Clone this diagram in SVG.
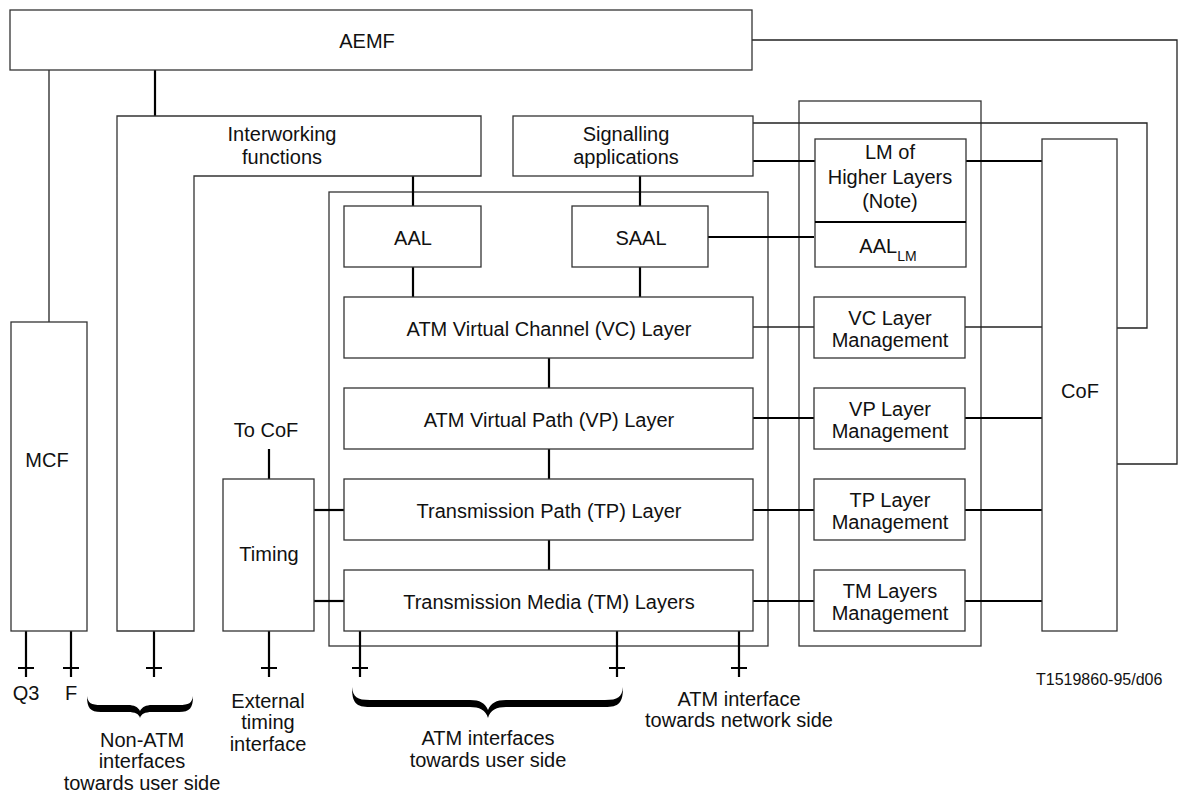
<svg xmlns="http://www.w3.org/2000/svg" width="1180" height="794" viewBox="0 0 1180 794">
<style>
.box{fill:#fff;stroke:#333;stroke-width:1.3}
.cont{fill:none;stroke:#333;stroke-width:1.3}
.thin{fill:none;stroke:#222;stroke-width:1.3}
.thick{fill:none;stroke:#000;stroke-width:2.2}
text{font-family:"Liberation Sans",Arial,sans-serif;font-size:20px;fill:#111;text-anchor:middle}
.small{font-size:16px;text-anchor:start}
.sub{font-size:14px}
.brace{fill:#000;stroke:none}
</style>
<rect width="1180" height="794" fill="#fff"/>
<g id="containers">
<rect class="cont" x="329" y="192" width="439" height="454"/>
<rect class="cont" x="799" y="101" width="182" height="545"/>
</g>
<g id="connectors">
<path class="thin" d="M49 70V322"/>
<path class="thick" d="M155 70V116"/>
<path class="thin" d="M752 40H1177V464H1117"/>
<path class="thin" d="M753 123H1147V328H1117"/>
<path class="thick" d="M413 176V206"/>
<path class="thick" d="M640 176V206"/>
<path class="thick" d="M753 161H815"/>
<path class="thick" d="M966 161H1042"/>
<path class="thick" d="M708 237H814"/>
<path class="thick" d="M413 267V297"/>
<path class="thick" d="M640 267V297"/>
<path class="thick" d="M549 358V388"/>
<path class="thick" d="M549 449V479"/>
<path class="thick" d="M549 540V570"/>
<path class="thin" d="M753 327H814"/>
<path class="thin" d="M965 327H1042"/>
<path class="thick" d="M753 418H814"/>
<path class="thick" d="M965 418H1042"/>
<path class="thick" d="M753 510H814"/>
<path class="thick" d="M965 510H1042"/>
<path class="thick" d="M753 601H814"/>
<path class="thick" d="M965 601H1042"/>
<path class="thick" d="M314 510H344"/>
<path class="thick" d="M314 601H344"/>
<path class="thick" d="M269 449V479"/>
<path class="thick" d="M26 631V677M18 668H34"/>
<path class="thick" d="M71 631V677M63 668H79"/>
<path class="thick" d="M154 631V677M146 668H162"/>
<path class="thick" d="M269 631V677M261 668H277"/>
<path class="thick" d="M360 631V677M352 668H368"/>
<path class="thick" d="M617 631V677M609 668H625"/>
<path class="thick" d="M739 631V677M731 668H747"/>
</g>
<g id="aemf"><rect class="box" x="10" y="10" width="742" height="60"/><text x="367" y="48">AEMF</text></g>
<g id="mcf"><rect class="box" x="11" y="322" width="76" height="309"/><text x="47" y="467">MCF</text></g>
<g id="iwf"><path class="box" d="M117 116H481V176H194V631H117Z"/><text x="282" y="141">Interworking</text><text x="282" y="164">functions</text></g>
<g id="signalling"><rect class="box" x="513" y="116" width="240" height="60"/><text x="626" y="141">Signalling</text><text x="626" y="164">applications</text></g>
<g id="aal"><rect class="box" x="344" y="206" width="137" height="61"/><text x="413" y="245">AAL</text></g>
<g id="saal"><rect class="box" x="572" y="206" width="136" height="61"/><text x="641" y="245">SAAL</text></g>
<g id="vc"><rect class="box" x="344" y="297" width="409" height="61"/><text x="549" y="336">ATM Virtual Channel (VC) Layer</text></g>
<g id="vp"><rect class="box" x="344" y="388" width="409" height="61"/><text x="549" y="427">ATM Virtual Path (VP) Layer</text></g>
<g id="tp"><rect class="box" x="344" y="479" width="409" height="61"/><text x="549" y="518">Transmission Path (TP) Layer</text></g>
<g id="tm"><rect class="box" x="344" y="570" width="409" height="61"/><text x="549" y="609">Transmission Media (TM) Layers</text></g>
<g id="timing"><rect class="box" x="223" y="479" width="91" height="152"/><text x="269" y="561">Timing</text><text x="266" y="437">To CoF</text></g>
<g id="lmhl"><rect class="box" x="815" y="139" width="151" height="128"/><path class="thick" d="M815 222H966"/><text x="890" y="159">LM of</text><text x="890" y="184">Higher Layers</text><text x="890" y="208">(Note)</text><text x="888" y="253">AAL<tspan class="sub" dy="8">LM</tspan></text></g>
<g id="vcm"><rect class="box" x="814" y="297" width="151" height="61"/><text x="890" y="325">VC Layer</text><text x="890" y="347">Management</text></g>
<g id="vpm"><rect class="box" x="814" y="388" width="151" height="61"/><text x="890" y="416">VP Layer</text><text x="890" y="438">Management</text></g>
<g id="tpm"><rect class="box" x="814" y="479" width="151" height="61"/><text x="890" y="507">TP Layer</text><text x="890" y="529">Management</text></g>
<g id="tmm"><rect class="box" x="814" y="570" width="151" height="61"/><text x="890" y="598">TM Layers</text><text x="890" y="620">Management</text></g>
<g id="cof"><rect class="box" x="1042" y="139" width="75" height="492"/><text x="1080" y="398">CoF</text></g>
<g id="labels">
<text x="26" y="700">Q3</text>
<text x="71" y="700">F</text>
<path class="brace" d="M87 696C87 708 90 712 101 712L128 712C135 712 139 714 140 718C141 714 145 712 152 712L179 712C190 712 193 708 193 696C192 703 189 705 179 705L152 705C146 705 142 707 140 711C138 707 134 705 128 705L101 705C91 705 88 703 87 696Z"/>
<text x="142" y="747">Non-ATM</text>
<text x="142" y="768">interfaces</text>
<text x="142" y="790">towards user side</text>
<text x="268" y="708">External</text>
<text x="268" y="729">timing</text>
<text x="268" y="751">interface</text>
<path class="brace" d="M352 687C352 703 356 707 370 707L470 707C479 707 486 710 488 718C490 710 497 707 506 707L605 707C619 707 623 703 623 687C622 697 618 700 605 700L506 700C496 700 491 703 488 710C485 703 480 700 470 700L370 700C357 700 353 697 352 687Z"/>
<text x="488" y="745">ATM interfaces</text>
<text x="488" y="767">towards user side</text>
<text x="739" y="706">ATM interface</text>
<text x="739" y="727">towards network side</text>
<text class="small" x="1036" y="685">T1519860-95/d06</text>
</g>
</svg>
